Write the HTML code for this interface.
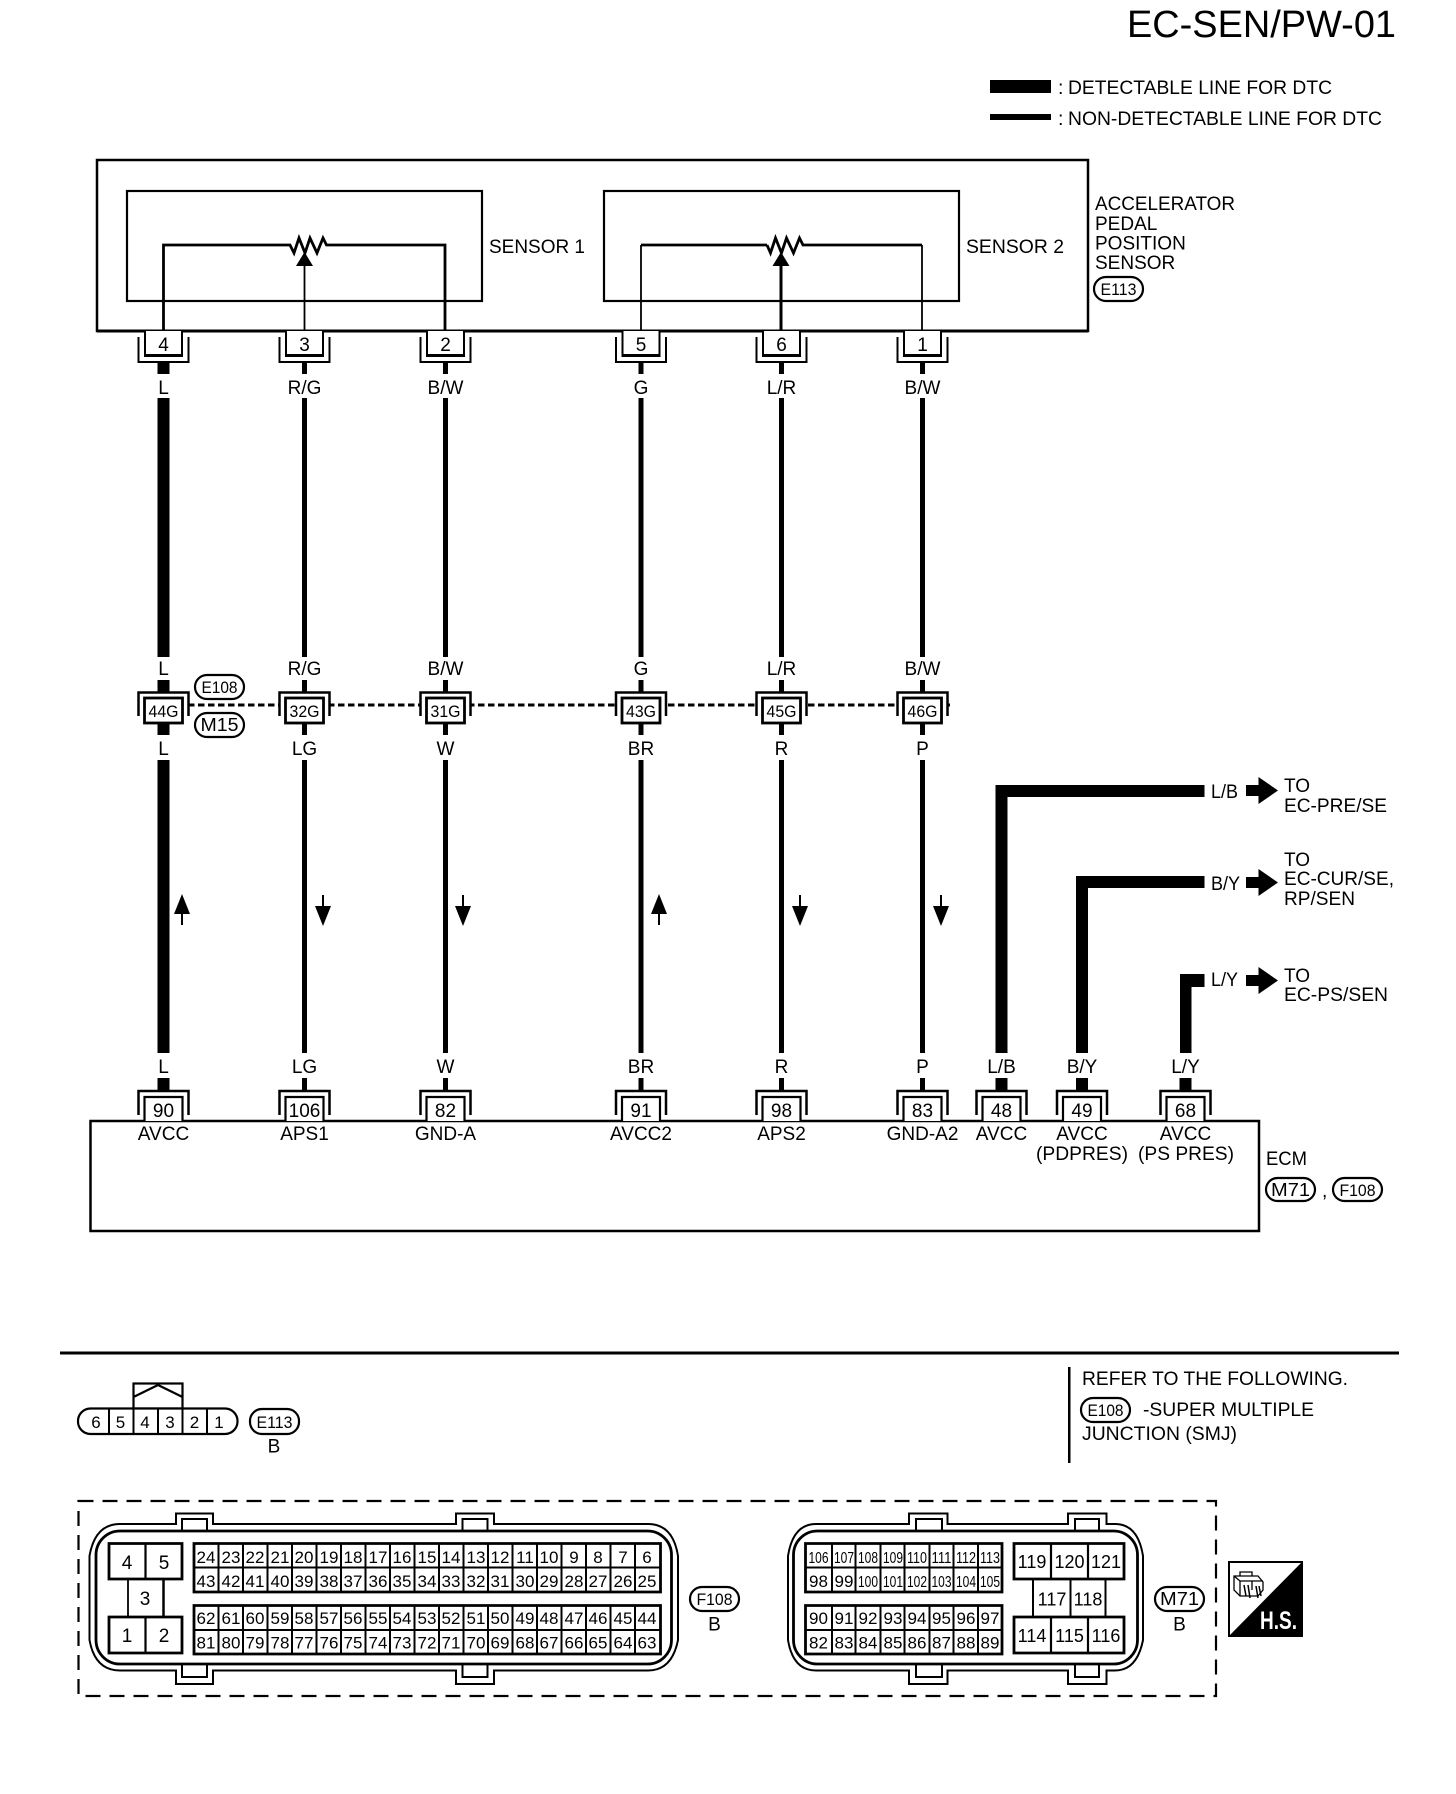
<!DOCTYPE html>
<html lang="en"><head><meta charset="utf-8"><title>EC-SEN/PW-01</title>
<style>
html,body{margin:0;padding:0;background:#fff}
svg{display:block}
text{font-family:"Liberation Sans",sans-serif;fill:#000}
.m{text-anchor:middle}
.l{font-size:19px;text-anchor:middle}
.s{font-size:19px}
.p{font-size:18px;text-anchor:middle}
.n{font-size:17px;text-anchor:middle}
</style></head><body>
<svg width="1456" height="1794" viewBox="0 0 1456 1794" xmlns="http://www.w3.org/2000/svg">
<defs>
<g id="ct" fill="none" stroke="#000"><path d="M-25 337V362H25V337" stroke-width="2"/><path d="M-18.500 331V356H18.500V331" fill="#fff" stroke-width="2"/><path d="M-18.500 355.500H18.500" stroke-width="3"/></g>
<g id="cm" stroke="#000"><path d="M-25 716V692.500H25V716" fill="#fff" stroke-width="2.500"/><rect x="-19" y="698" width="38" height="25" fill="#fff" stroke-width="2.800"/></g>
<g id="cb" stroke="#000" fill="none"><path d="M-25 1115V1091H25V1115" stroke-width="2.500"/><path d="M-19 1121V1097H19V1121" fill="#fff" stroke-width="2.200"/></g>
<path id="au" d="M0 894L8 914H1V925H-1V914H-8Z"/>
<path id="ad" d="M-1 895H1V906H8L0 926L-8 906H-1Z"/>
<path id="ar" d="M0 -5.500H12.500V-13.500L32 0L12.500 13.500V5.500H0Z"/>
</defs>
<rect width="1456" height="1794" fill="#fff"/>

<text x="1127" y="37" font-size="38" textLength="269" lengthAdjust="spacingAndGlyphs">EC-SEN/PW-01</text>
<rect x="990" y="80" width="61" height="13"/><rect x="990" y="114" width="61" height="6"/>
<text x="1058" y="94" font-size="19.500">:</text><text x="1068" y="94" font-size="19.500" textLength="264" lengthAdjust="spacingAndGlyphs">DETECTABLE LINE FOR DTC</text>
<text x="1058" y="125" font-size="19.500">:</text><text x="1068" y="125" font-size="19.500" textLength="314" lengthAdjust="spacingAndGlyphs">NON-DETECTABLE LINE FOR DTC</text>

<!-- sensor assembly -->
<g fill="none" stroke="#000">
<path d="M97 160H1088V331H97Z" stroke-width="2.500"/><path d="M97 331H1088" stroke-width="3"/>
<rect x="127" y="191" width="355" height="110" stroke-width="2.200"/>
<rect x="604" y="191" width="355" height="110" stroke-width="2.200"/>
<path d="M163.500 331V245H290L294 253L299 238L305 253L310 238L317 253L323 238L326.500 245H445V331" stroke-width="2.800"/>
<path d="M767 245L770.500 253L775.500 238L781.500 253L786.500 238L793.500 253L799.500 238L803 245H922" stroke-width="2.800"/>
<path d="M767 245H641" stroke-width="2.800"/>
<path d="M641 331V245M922 245V331" stroke-width="1.800"/>
<path d="M304.500 331V262" stroke-width="1.800"/>
<path d="M781 331V262" stroke-width="3"/>
</g>
<path d="M304.500 252L313 266H296Z"/><path d="M781 252L789.500 266H772.500Z"/>
<text x="489" y="253" font-size="19.500" textLength="96" lengthAdjust="spacingAndGlyphs">SENSOR 1</text>
<text x="966" y="253" font-size="19.500" textLength="98" lengthAdjust="spacingAndGlyphs">SENSOR 2</text>
<g class="s"><text class="s" x="1095" y="210" textLength="140" lengthAdjust="spacingAndGlyphs">ACCELERATOR</text><text class="s" x="1095" y="230">PEDAL</text><text class="s" x="1095" y="249.500">POSITION</text><text class="s" x="1095" y="269">SENSOR</text></g>
<rect x="1094" y="277" width="49" height="24" rx="12" fill="#fff" stroke="#000" stroke-width="2.200"/><text class="m" x="1118.500" y="295" font-size="17" textLength="36" lengthAdjust="spacingAndGlyphs">E113</text>

<!-- wires -->
<g fill="#000">
<rect x="157.500" y="362" width="12" height="12"/><rect x="157.500" y="398" width="12" height="259"/><rect x="157.500" y="680" width="12" height="12"/><rect x="157.500" y="723" width="12" height="12"/><rect x="157.500" y="760" width="12" height="293"/><rect x="157.500" y="1078" width="12" height="13"/>
<path d="M302 362h5v12h-5zM302 398h5v259h-5zM302 680h5v12h-5zM302 723h5v12h-5zM302 760h5v293h-5zM302 1078h5v13h-5z"/>
<path d="M443 362h5v12h-5zM443 398h5v259h-5zM443 680h5v12h-5zM443 723h5v12h-5zM443 760h5v293h-5zM443 1078h5v13h-5z"/>
<path d="M638.500 362h5v12h-5zM638.500 398h5v259h-5zM638.500 680h5v12h-5zM638.500 723h5v12h-5zM638.500 760h5v293h-5zM638.500 1078h5v13h-5z"/>
<path d="M779 362h5v12h-5zM779 398h5v259h-5zM779 680h5v12h-5zM779 723h5v12h-5zM779 760h5v293h-5zM779 1078h5v13h-5z"/>
<path d="M920 362h5v12h-5zM920 398h5v259h-5zM920 680h5v12h-5zM920 723h5v12h-5zM920 760h5v293h-5zM920 1078h5v13h-5z"/>
<path d="M995.500 1053V785H1204.500V797H1007.500V1053Z"/>
<path d="M1076 1053V876H1204.500V888H1088V1053Z"/>
<path d="M1180 1053V974H1204.500V987H1191.500V1053Z"/>
<rect x="995.500" y="1078" width="12" height="13"/><rect x="1076" y="1078" width="12" height="13"/><rect x="1179.500" y="1078" width="12" height="13"/>
</g>
<path d="M188 705H950" stroke="#000" stroke-width="3" stroke-dasharray="6.500 3.500" fill="none"/>

<!-- top connectors -->
<use href="#ct" x="163.500"/><use href="#ct" x="304.500"/><use href="#ct" x="445.500"/><use href="#ct" x="641"/><use href="#ct" x="781.500"/><use href="#ct" x="922.500"/>
<text class="l" y="351"><tspan x="163.500">4</tspan><tspan x="304.500">3</tspan><tspan x="445.500">2</tspan><tspan x="641">5</tspan><tspan x="781.500">6</tspan><tspan x="922.500">1</tspan></text>
<text class="l" y="394"><tspan x="163.500">L</tspan><tspan x="304.500">R/G</tspan><tspan x="445.500">B/W</tspan><tspan x="641">G</tspan><tspan x="781.500">L/R</tspan><tspan x="922.500">B/W</tspan></text>
<text class="l" y="675"><tspan x="163.500">L</tspan><tspan x="304.500">R/G</tspan><tspan x="445.500">B/W</tspan><tspan x="641">G</tspan><tspan x="781.500">L/R</tspan><tspan x="922.500">B/W</tspan></text>
<text class="l" y="755"><tspan x="163.500">L</tspan><tspan x="304.500">LG</tspan><tspan x="445.500">W</tspan><tspan x="641">BR</tspan><tspan x="781.500">R</tspan><tspan x="922.500">P</tspan></text>
<text class="l" y="1073"><tspan x="163.500">L</tspan><tspan x="304.500">LG</tspan><tspan x="445.500">W</tspan><tspan x="641">BR</tspan><tspan x="781.500">R</tspan><tspan x="922.500">P</tspan><tspan x="1001.500">L/B</tspan><tspan x="1082">B/Y</tspan><tspan x="1185.500">L/Y</tspan></text>

<!-- mid connectors -->
<use href="#cm" x="163.500"/><use href="#cm" x="304.500"/><use href="#cm" x="445.500"/><use href="#cm" x="641"/><use href="#cm" x="781.500"/><use href="#cm" x="922.500"/>
<g font-size="16.500"><text class="m" x="163.500" y="717" textLength="30" lengthAdjust="spacingAndGlyphs">44G</text><text class="m" x="304.500" y="717" textLength="30" lengthAdjust="spacingAndGlyphs">32G</text><text class="m" x="445.500" y="717" textLength="30" lengthAdjust="spacingAndGlyphs">31G</text><text class="m" x="641" y="717" textLength="30" lengthAdjust="spacingAndGlyphs">43G</text><text class="m" x="781.500" y="717" textLength="30" lengthAdjust="spacingAndGlyphs">45G</text><text class="m" x="922.500" y="717" textLength="30" lengthAdjust="spacingAndGlyphs">46G</text></g>
<rect x="195" y="675" width="49" height="24" rx="12" fill="#fff" stroke="#000" stroke-width="2.200"/><text class="m" x="219.500" y="693" font-size="17" textLength="36" lengthAdjust="spacingAndGlyphs">E108</text>
<rect x="195" y="713" width="49" height="24" rx="12" fill="#fff" stroke="#000" stroke-width="2.200"/><text class="m" x="219.500" y="731" font-size="18" textLength="38" lengthAdjust="spacingAndGlyphs">M15</text>

<!-- direction arrows -->
<use href="#au" x="182"/><use href="#au" x="659"/><use href="#ad" x="323"/><use href="#ad" x="463"/><use href="#ad" x="800"/><use href="#ad" x="941"/>

<!-- right side branches -->
<text x="1211" y="798" class="s" textLength="27" lengthAdjust="spacingAndGlyphs">L/B</text>
<text x="1211" y="890" class="s" textLength="29" lengthAdjust="spacingAndGlyphs">B/Y</text>
<text x="1211" y="986" class="s" textLength="27" lengthAdjust="spacingAndGlyphs">L/Y</text>
<use href="#ar" x="1246" y="790.500"/><use href="#ar" x="1246" y="882.500"/><use href="#ar" x="1246" y="980.500"/>
<text class="s" x="1284" y="792">TO</text><text class="s" x="1284" y="812" textLength="103" lengthAdjust="spacingAndGlyphs">EC-PRE/SE</text>
<text class="s" x="1284" y="866">TO</text><text class="s" x="1284" y="885" textLength="110" lengthAdjust="spacingAndGlyphs">EC-CUR/SE,</text><text class="s" x="1284" y="905" textLength="71" lengthAdjust="spacingAndGlyphs">RP/SEN</text>
<text class="s" x="1284" y="982">TO</text><text class="s" x="1284" y="1001" textLength="104" lengthAdjust="spacingAndGlyphs">EC-PS/SEN</text>

<!-- ECM -->
<rect x="90.500" y="1121" width="1168.500" height="110" fill="#fff" stroke="#000" stroke-width="2.500"/>
<use href="#cb" x="163.500"/><use href="#cb" x="304.500"/><use href="#cb" x="445.500"/><use href="#cb" x="641"/><use href="#cb" x="781.500"/><use href="#cb" x="922.500"/><use href="#cb" x="1001.500"/><use href="#cb" x="1082"/><use href="#cb" x="1185.500"/>
<text class="l" y="1117"><tspan x="163.500">90</tspan><tspan x="304.500">106</tspan><tspan x="445.500">82</tspan><tspan x="641">91</tspan><tspan x="781.500">98</tspan><tspan x="922.500">83</tspan><tspan x="1001.500">48</tspan><tspan x="1082">49</tspan><tspan x="1185.500">68</tspan></text>
<text class="l" y="1140"><tspan x="163.500">AVCC</tspan><tspan x="304.500">APS1</tspan><tspan x="445.500">GND-A</tspan><tspan x="641">AVCC2</tspan><tspan x="781.500">APS2</tspan><tspan x="922.500">GND-A2</tspan><tspan x="1001.500">AVCC</tspan><tspan x="1082">AVCC</tspan><tspan x="1185.500">AVCC</tspan></text>
<text class="l" x="1082" y="1160" textLength="92" lengthAdjust="spacingAndGlyphs">(PDPRES)</text>
<text class="l" x="1186" y="1160" textLength="96" lengthAdjust="spacingAndGlyphs">(PS PRES)</text>
<text class="s" x="1266" y="1165" textLength="41" lengthAdjust="spacingAndGlyphs">ECM</text>
<rect x="1266" y="1178" width="49" height="23" rx="11.500" fill="#fff" stroke="#000" stroke-width="2.200"/><text class="m" x="1290.500" y="1196" font-size="18" textLength="39" lengthAdjust="spacingAndGlyphs">M71</text>
<text class="s" x="1322" y="1197">,</text>
<rect x="1333" y="1178" width="49" height="23" rx="11.500" fill="#fff" stroke="#000" stroke-width="2.200"/><text class="m" x="1357.500" y="1196" font-size="17" textLength="36" lengthAdjust="spacingAndGlyphs">F108</text>

<!-- separator and note -->
<rect x="60" y="1351.500" width="1339" height="3"/>
<rect x="1068" y="1367" width="2.500" height="96"/>
<text class="s" x="1082" y="1385" textLength="266" lengthAdjust="spacingAndGlyphs">REFER TO THE FOLLOWING.</text>
<rect x="1081" y="1398" width="49" height="24" rx="12" fill="#fff" stroke="#000" stroke-width="2.200"/><text class="m" x="1105.500" y="1416" font-size="17" textLength="36" lengthAdjust="spacingAndGlyphs">E108</text>
<text class="s" x="1143" y="1416" textLength="171" lengthAdjust="spacingAndGlyphs">-SUPER MULTIPLE</text>
<text class="s" x="1082" y="1440" textLength="155" lengthAdjust="spacingAndGlyphs">JUNCTION (SMJ)</text>

<!-- E113 connector -->
<g fill="none" stroke="#000" stroke-width="2.200">
<rect x="133.500" y="1383.500" width="49" height="25"/>
<path d="M133.500 1397L158 1385L182.500 1397"/>
<rect x="78" y="1408.500" width="159.500" height="25.500" rx="12.500" fill="#fff"/>
<path d="M109 1408.500V1434M133.500 1408.500V1434M158 1408.500V1434M182.500 1408.500V1434M207 1408.500V1434" stroke-width="2"/>
</g>
<text class="n" y="1428"><tspan x="96">6</tspan><tspan x="120.500">5</tspan><tspan x="145">4</tspan><tspan x="170">3</tspan><tspan x="194.500">2</tspan><tspan x="219">1</tspan></text>
<rect x="250" y="1409" width="49" height="25" rx="12" fill="#fff" stroke="#000" stroke-width="2.200"/><text class="m" x="274.500" y="1428" font-size="17" textLength="36" lengthAdjust="spacingAndGlyphs">E113</text>
<text class="l" x="274" y="1452.500">B</text>

<!-- dashed box -->
<rect x="78.500" y="1501" width="1137.500" height="195" fill="none" stroke="#000" stroke-width="2.200" stroke-dasharray="15 9"/>

<!-- F108 connector -->
<g fill="none" stroke="#000">
<path d="M176 1524V1513.500H213V1524H456V1513.500H494V1524H648Q673 1524 678 1556V1640Q672 1670.500 648 1670.500H494V1684H456V1670.500H213V1684H176V1670.500H120Q95 1670.500 89.500 1640V1556Q95 1524 120 1524Z" stroke-width="2"/>
<rect x="96" y="1531" width="575.500" height="133" rx="24" stroke-width="2.800"/>
<path d="M182 1531V1519H207V1531M462.500 1531V1519H487.500V1531M182 1664V1677H207V1664M462.500 1664V1677H487.500V1664" stroke-width="2"/>
<!-- left block -->
<path d="M109 1543.500H182V1579H109ZM109 1617H182V1653H109Z" stroke-width="2.800"/>
<path d="M145.500 1543.500V1579M145.500 1617V1653" stroke-width="2.200"/>
<path d="M128 1579V1617" stroke-width="1.800"/><path d="M163.500 1579V1617" stroke-width="2.500"/>
<!-- grids -->
<path d="M194 1543.500H660.500V1592H194ZM194 1605.500H660.500V1654H194Z" stroke-width="2.800"/>
<path d="M194 1567.500H660.500M194 1630H660.500" stroke-width="2"/>
<path d="M218.500 1543.500V1592M243 1543.500V1592M267.500 1543.500V1592M292 1543.500V1592M316.500 1543.500V1592M341 1543.500V1592M365.500 1543.500V1592M390 1543.500V1592M414.500 1543.500V1592M439 1543.500V1592M463.500 1543.500V1592M488 1543.500V1592M512.500 1543.500V1592M537 1543.500V1592M561.500 1543.500V1592M586 1543.500V1592M610.500 1543.500V1592M635 1543.500V1592M218.500 1605.500V1654M243 1605.500V1654M267.500 1605.500V1654M292 1605.500V1654M316.500 1605.500V1654M341 1605.500V1654M365.500 1605.500V1654M390 1605.500V1654M414.500 1605.500V1654M439 1605.500V1654M463.500 1605.500V1654M488 1605.500V1654M512.500 1605.500V1654M537 1605.500V1654M561.500 1605.500V1654M586 1605.500V1654M610.500 1605.500V1654M635 1605.500V1654" stroke-width="2"/>
</g>
<text class="l" y="1569"><tspan x="127">4</tspan><tspan x="164">5</tspan></text>
<text class="l" x="145" y="1605">3</text>
<text class="l" y="1642"><tspan x="127">1</tspan><tspan x="164">2</tspan></text>
<text class="n" y="1563"><tspan x="206">24</tspan><tspan x="231">23</tspan><tspan x="255">22</tspan><tspan x="280">21</tspan><tspan x="304">20</tspan><tspan x="329">19</tspan><tspan x="353">18</tspan><tspan x="378">17</tspan><tspan x="402">16</tspan><tspan x="427">15</tspan><tspan x="451">14</tspan><tspan x="476">13</tspan><tspan x="500">12</tspan><tspan x="525">11</tspan><tspan x="549">10</tspan><tspan x="574">9</tspan><tspan x="598">8</tspan><tspan x="623">7</tspan><tspan x="647">6</tspan></text>
<text class="n" y="1587"><tspan x="206">43</tspan><tspan x="231">42</tspan><tspan x="255">41</tspan><tspan x="280">40</tspan><tspan x="304">39</tspan><tspan x="329">38</tspan><tspan x="353">37</tspan><tspan x="378">36</tspan><tspan x="402">35</tspan><tspan x="427">34</tspan><tspan x="451">33</tspan><tspan x="476">32</tspan><tspan x="500">31</tspan><tspan x="525">30</tspan><tspan x="549">29</tspan><tspan x="574">28</tspan><tspan x="598">27</tspan><tspan x="623">26</tspan><tspan x="647">25</tspan></text>
<text class="n" y="1624"><tspan x="206">62</tspan><tspan x="231">61</tspan><tspan x="255">60</tspan><tspan x="280">59</tspan><tspan x="304">58</tspan><tspan x="329">57</tspan><tspan x="353">56</tspan><tspan x="378">55</tspan><tspan x="402">54</tspan><tspan x="427">53</tspan><tspan x="451">52</tspan><tspan x="476">51</tspan><tspan x="500">50</tspan><tspan x="525">49</tspan><tspan x="549">48</tspan><tspan x="574">47</tspan><tspan x="598">46</tspan><tspan x="623">45</tspan><tspan x="647">44</tspan></text>
<text class="n" y="1648.500"><tspan x="206">81</tspan><tspan x="231">80</tspan><tspan x="255">79</tspan><tspan x="280">78</tspan><tspan x="304">77</tspan><tspan x="329">76</tspan><tspan x="353">75</tspan><tspan x="378">74</tspan><tspan x="402">73</tspan><tspan x="427">72</tspan><tspan x="451">71</tspan><tspan x="476">70</tspan><tspan x="500">69</tspan><tspan x="525">68</tspan><tspan x="549">67</tspan><tspan x="574">66</tspan><tspan x="598">65</tspan><tspan x="623">64</tspan><tspan x="647">63</tspan></text>
<rect x="690" y="1587" width="49" height="24" rx="12" fill="#fff" stroke="#000" stroke-width="2.200"/><text class="m" x="714.500" y="1605" font-size="17" textLength="36" lengthAdjust="spacingAndGlyphs">F108</text>
<text class="l" x="714.500" y="1630.500">B</text>

<!-- M71 connector -->
<g fill="none" stroke="#000">
<path d="M909 1524V1513.500H947.500V1524H1068V1513.500H1106.500V1524H1115Q1138 1524 1143 1556V1640Q1137 1670.500 1115 1670.500H1106.500V1684H1068V1670.500H947.500V1684H909V1670.500H816Q793 1670.500 788 1640V1556Q793 1524 816 1524Z" stroke-width="2"/>
<rect x="793.500" y="1531" width="344" height="133" rx="24" stroke-width="2.800"/>
<path d="M916 1531V1519H942V1531M1075 1531V1519H1099V1531M916 1664V1677H942V1664M1075 1664V1677H1099V1664" stroke-width="2"/>
<path d="M805.500 1543.500H1002V1592H805.500ZM805.500 1605.500H1002V1654H805.500Z" stroke-width="2.800"/>
<path d="M805.500 1567.500H1002M805.500 1630H1002" stroke-width="2"/>
<path d="M832 1543.500V1592M855.500 1543.500V1592M880.500 1543.500V1592M904.500 1543.500V1592M929.500 1543.500V1592M953.500 1543.500V1592M978 1543.500V1592M832 1605.500V1654M855.500 1605.500V1654M880.500 1605.500V1654M904.500 1605.500V1654M929.500 1605.500V1654M953.500 1605.500V1654M978 1605.500V1654" stroke-width="2"/>
<path d="M1014 1543.500H1124V1579H1014ZM1014 1617H1124V1653H1014Z" stroke-width="2.800"/>
<path d="M1051 1543.500V1579M1088 1543.500V1579M1051 1617V1653M1088 1617V1653" stroke-width="2.200"/>
<path d="M1033 1579V1617M1070.500 1579V1617M1105.500 1579V1617" stroke-width="2"/>
</g>
<g font-size="16">
<text class="m" x="818.500" y="1563" textLength="20" lengthAdjust="spacingAndGlyphs">106</text><text class="m" x="844" y="1563" textLength="20" lengthAdjust="spacingAndGlyphs">107</text><text class="m" x="868" y="1563" textLength="20" lengthAdjust="spacingAndGlyphs">108</text><text class="m" x="893" y="1563" textLength="20" lengthAdjust="spacingAndGlyphs">109</text><text class="m" x="917" y="1563" textLength="20" lengthAdjust="spacingAndGlyphs">110</text><text class="m" x="941.500" y="1563" textLength="20" lengthAdjust="spacingAndGlyphs">111</text><text class="m" x="966" y="1563" textLength="20" lengthAdjust="spacingAndGlyphs">112</text><text class="m" x="990" y="1563" textLength="20" lengthAdjust="spacingAndGlyphs">113</text>
<text class="m" x="868" y="1587" textLength="20" lengthAdjust="spacingAndGlyphs">100</text><text class="m" x="893" y="1587" textLength="20" lengthAdjust="spacingAndGlyphs">101</text><text class="m" x="917" y="1587" textLength="20" lengthAdjust="spacingAndGlyphs">102</text><text class="m" x="941.500" y="1587" textLength="20" lengthAdjust="spacingAndGlyphs">103</text><text class="m" x="966" y="1587" textLength="20" lengthAdjust="spacingAndGlyphs">104</text><text class="m" x="990" y="1587" textLength="20" lengthAdjust="spacingAndGlyphs">105</text>
</g>
<text class="n" y="1587"><tspan x="818.500">98</tspan><tspan x="844">99</tspan></text>
<text class="n" y="1624"><tspan x="818.500">90</tspan><tspan x="844">91</tspan><tspan x="868">92</tspan><tspan x="893">93</tspan><tspan x="917">94</tspan><tspan x="941.500">95</tspan><tspan x="966">96</tspan><tspan x="990">97</tspan></text>
<text class="n" y="1648.500"><tspan x="818.500">82</tspan><tspan x="844">83</tspan><tspan x="868">84</tspan><tspan x="893">85</tspan><tspan x="917">86</tspan><tspan x="941.500">87</tspan><tspan x="966">88</tspan><tspan x="990">89</tspan></text>
<text class="p" y="1568"><tspan x="1032">119</tspan><tspan x="1069.500">120</tspan><tspan x="1106">121</tspan></text>
<text class="p" y="1605.500"><tspan x="1052">117</tspan><tspan x="1088">118</tspan></text>
<text class="p" y="1642"><tspan x="1032">114</tspan><tspan x="1069.500">115</tspan><tspan x="1106">116</tspan></text>
<rect x="1155" y="1587" width="49" height="24" rx="12" fill="#fff" stroke="#000" stroke-width="2.200"/><text class="m" x="1179.500" y="1605" font-size="18" textLength="39" lengthAdjust="spacingAndGlyphs">M71</text>
<text class="l" x="1179.500" y="1630.500">B</text>

<!-- H.S. icon -->
<rect x="1229" y="1562" width="73" height="74" fill="#fff" stroke="#000" stroke-width="2"/>
<path d="M1301 1563V1635H1230Z"/>
<g fill="none" stroke="#000" stroke-width="1.300">
<path d="M1234 1576H1258L1263 1582V1590L1258 1596H1240L1234 1590Z"/><path d="M1240 1576V1572H1252V1576M1234 1576L1240 1581H1263M1240 1581V1596M1252 1581V1590"/>
<path d="M1244 1585L1246 1596M1248 1585L1250 1598M1256 1586L1258 1598M1259 1586L1261 1596" stroke-width="1.500"/>
</g>
<text x="1260" y="1629" font-size="25" font-weight="700" textLength="37" lengthAdjust="spacingAndGlyphs" style="fill:#fff">H.S.</text>
</svg>
</body></html>
